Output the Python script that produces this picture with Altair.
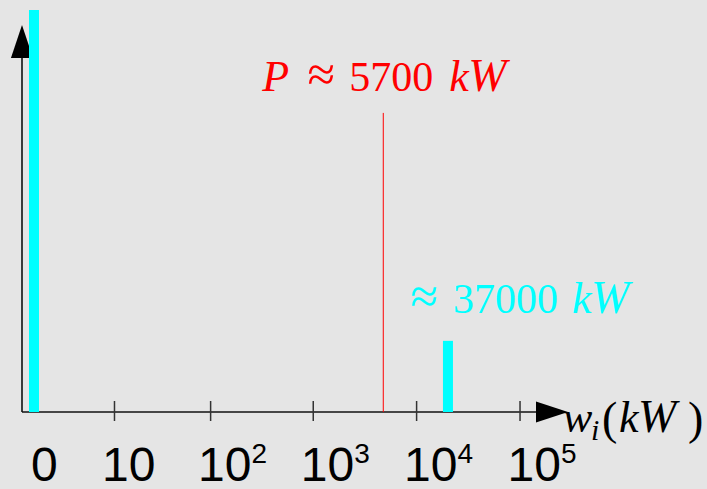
import altair as alt
import pandas as pd

# ---------------- data ----------------
bar_pos = [0, 20100]            # kW (x position of the cyan bars)
bar_height = [1.0, 0.177]       # relative height
power_pos = [4760]              # kW, red marker line
power_top = [0.744]             # relative height of red line
tick_values = [10, 100, 1000, 10000, 100000]
tick_bases = ["10", "10", "10", "10", "10"]
tick_exps = ["", "2", "3", "4", "5"]
zero_label = "0"
red_frags = ["P", "≈", "5700", "k", "W"]
cyan_frags = ["≈", "37000", "k", "W"]
axis_frags = ["w", "i", "(", "k", "W", ")"]

# ---------------- styling ----------------
W, H = 707, 489
BG = "#e5e5e5"
CYAN = "#00ffff"
RED = "#ff0000"
SERIF = "Liberation Serif"
SANS = "Liberation Sans"

xscale = alt.Scale(type="symlog", constant=2, domain=[-2.263, 6421400],
                   range=[0, W], nice=False, zero=False)
yscale = alt.Scale(type="linear", domain=[-0.19154, 1.02488],
                   range=[H, 0], nice=False, zero=False)

one = pd.DataFrame({"a": [0]})


def Xf(field):
    return alt.X(field, type="quantitative", scale=xscale, axis=None)


def Xd(v):
    return alt.XDatum(v, type="quantitative", scale=xscale, axis=None)


def Yf(field):
    return alt.Y(field, type="quantitative", scale=yscale, axis=None)


def Yd(v):
    return alt.YDatum(v, type="quantitative", scale=yscale, axis=None)


def frag(text, xv, yv, dx, dy, size, color, italic=False, font=SERIF, align="left"):
    return alt.Chart(one).mark_text(
        text=text, font=font, fontSize=size,
        fontStyle="italic" if italic else "normal",
        color=color, align=align, baseline="alphabetic", dx=dx, dy=dy
    ).encode(x=Xd(xv), y=Yd(yv))


bars_df = pd.DataFrame({"pos": bar_pos, "h": bar_height, "base": [0, 0]})
ticks_df = pd.DataFrame({"v": tick_values, "b": tick_bases, "e": tick_exps})
power_df = pd.DataFrame({"pos": power_pos, "top": power_top, "base": [0]})

# axes (decorations)
x_axis = alt.Chart(one).mark_rule(color="#111111", strokeWidth=1.6).encode(
    x=alt.value(22), x2=alt.value(540), y=Yd(0))
y_axis = alt.Chart(one).mark_rule(color="#111111", strokeWidth=1.6).encode(
    x=alt.value(22), y=Yd(0), y2=alt.value(50))
x_arrow = alt.Chart(one).mark_point(
    shape="M-1,-0.66L1,0L-1,0.66Z", size=1024, filled=True, color="black",
    opacity=1, strokeWidth=0).encode(x=alt.value(552), y=Yd(0))
y_arrow = alt.Chart(one).mark_point(
    shape="M-0.67,1L0,-1L0.67,1Z", size=1089, filled=True, color="black",
    opacity=1, strokeWidth=0).encode(x=alt.value(22), y=alt.value(41.5))

tick_rules = alt.Chart(ticks_df).mark_rule(color="#333333", strokeWidth=1.5).encode(
    x=Xf("v"), y=alt.value(401), y2=alt.value(421))
tick_text = alt.Chart(ticks_df).mark_text(
    font=SANS, fontSize=48, align="left", baseline="alphabetic", dx=-12.5, dy=69,
    color="black").encode(x=Xf("v"), y=Yd(0), text="b:N")
tick_sup = alt.Chart(ticks_df).mark_text(
    font=SANS, fontSize=28, align="left", baseline="alphabetic", dx=41, dy=51,
    color="black").encode(x=Xf("v"), y=Yd(0), text="e:N")
zero_text = frag(zero_label, 0, 0, -3, 69, 48, "black", font=SANS)

# data marks
bars = alt.Chart(bars_df).mark_rule(color=CYAN, strokeWidth=10).encode(
    x=Xf("pos"), y=Yf("base"), y2="h:Q")
power = alt.Chart(power_df).mark_rule(color=RED, strokeWidth=1).encode(
    x=Xf("pos"), y=Yf("base"), y2="top:Q")

# annotations
px, pt = power_pos[0], power_top[0]
red_label = [
    frag(red_frags[0], px, pt, -121, -22, 44, RED, italic=True),
    frag(red_frags[1], px, pt, -62, -22, 50, RED, align="center"),
    frag(red_frags[2], px, pt, -34, -22, 42, RED),
    frag(red_frags[3], px, pt, 66, -22, 44, RED, italic=True),
    frag(red_frags[4], px, pt, 85, -22, 46, RED, italic=True),
]
bx, bt = bar_pos[1], bar_height[1]
cyan_label = [
    frag(cyan_frags[0], bx, bt, -23.5, -28, 50, CYAN, align="center"),
    frag(cyan_frags[1], bx, bt, 5, -28, 42, CYAN),
    frag(cyan_frags[2], bx, bt, 124, -28, 44, CYAN, italic=True),
    frag(cyan_frags[3], bx, bt, 143, -28, 46, CYAN, italic=True),
]
ax = tick_values[-1]
axis_label = [
    frag(axis_frags[0], ax, 0, 43, 20, 44, "black", italic=True),
    frag(axis_frags[1], ax, 0, 71, 28, 30, "black", italic=True),
    frag(axis_frags[2], ax, 0, 82, 22, 46, "black"),
    frag(axis_frags[3], ax, 0, 99, 20, 44, "black", italic=True),
    frag(axis_frags[4], ax, 0, 118, 20, 46, "black", italic=True),
    frag(axis_frags[5], ax, 0, 168, 22, 46, "black"),
]

chart = alt.layer(
    x_axis, y_axis, x_arrow, y_arrow, tick_rules, power, bars,
    tick_text, tick_sup, zero_text, *red_label, *cyan_label, *axis_label
).properties(
    width=W, height=H, background=BG, padding=0,
    autosize=alt.AutoSizeParams(type="none")
).configure_view(strokeWidth=0, fill=BG)

chart.save("out.html", embed_options={"renderer": "svg", "actions": False})
